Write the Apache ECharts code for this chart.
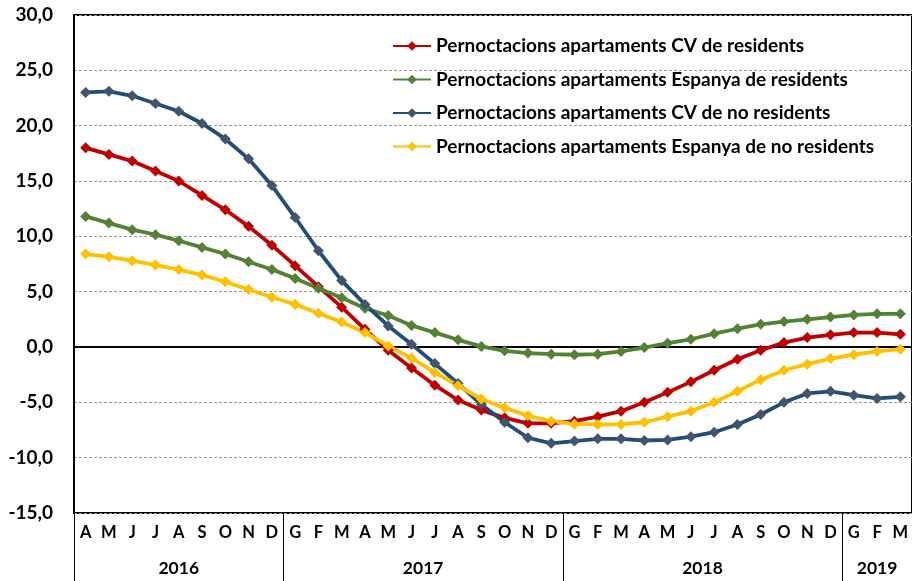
<!DOCTYPE html>
<html>
<head>
<meta charset="utf-8">
<script src="https://cdn.jsdelivr.net/npm/echarts@6/dist/echarts.min.js"></script>
<style>
	html, body { margin: 0; padding: 0; background: #fff; }
	#chart { width: 912px; height: 581px; }
</style>
</head>
<body>
<div id="chart"></div>
<script>
	/* mesos (abril 2016 - març 2019) */
	var months = ['A','M','J','J','A','S','O','N','D',
		'G','F','M','A','M','J','J','A','S','O','N','D',
		'G','F','M','A','M','J','J','A','S','O','N','D',
		'G','F','M'];
	/* anys i nombre de mesos de cada any */
	var years = ['2016', '2017', '2018', '2019'];
	var yearMonths = [9, 12, 12, 3];

	var cvResidents = [18.0, 17.4, 16.8, 15.9, 15.0, 13.7, 12.4, 10.9, 9.2,
		7.35, 5.45, 3.6, 1.6, -0.3, -1.9, -3.45, -4.8, -5.7, -6.4, -6.9, -6.9,
		-6.7, -6.3, -5.8, -5.0, -4.1, -3.15, -2.1, -1.1, -0.3, 0.4, 0.85, 1.1,
		1.3, 1.3, 1.15];
	var espResidents = [11.8, 11.2, 10.6, 10.15, 9.6, 9.0, 8.4, 7.7, 7.0,
		6.2, 5.3, 4.45, 3.5, 2.85, 1.95, 1.3, 0.65, 0.05, -0.35, -0.55, -0.65,
		-0.7, -0.65, -0.4, -0.05, 0.35, 0.7, 1.2, 1.65, 2.05, 2.3, 2.5, 2.7,
		2.9, 3.0, 3.0];
	var cvNoResidents = [23.0, 23.1, 22.7, 22.0, 21.3, 20.2, 18.8, 17.0, 14.6,
		11.7, 8.7, 6.0, 3.85, 1.9, 0.25, -1.5, -3.3, -5.2, -6.8, -8.2, -8.7,
		-8.5, -8.3, -8.3, -8.45, -8.4, -8.1, -7.7, -7.0, -6.1, -5.0, -4.2, -4.0,
		-4.35, -4.65, -4.5];
	var espNoResidents = [8.4, 8.15, 7.8, 7.4, 7.0, 6.5, 5.9, 5.2, 4.5,
		3.85, 3.05, 2.25, 1.3, 0.1, -1.0, -2.3, -3.5, -4.7, -5.5, -6.2, -6.7,
		-6.95, -7.0, -7.0, -6.8, -6.3, -5.8, -5.0, -4.0, -2.95, -2.1, -1.55, -1.05,
		-0.7, -0.4, -0.2];

	var seriesNames = [
		'Pernoctacions apartaments CV de residents',
		'Pernoctacions apartaments Espanya de residents',
		'Pernoctacions apartaments CV de no residents',
		'Pernoctacions apartaments Espanya de no residents'
	];

	/* límits i centres dels anys, per a l'eix inferior */
	var yearBounds = [0];
	var yearCenters = [];
	yearMonths.forEach(function (n, i) {
		var start = yearBounds[i];
		yearBounds.push(start + n);
		yearCenters.push(start + n / 2);
	});

	var font = 'Lato, "Liberation Sans", sans-serif';

	function makeSeries(name, data, lineColor, markColor, extra) {
		var s = {
			name: name,
			type: 'line',
			data: data,
			symbol: 'diamond',
			symbolSize: 11,
			lineStyle: { width: 3.8, color: lineColor },
			itemStyle: { color: markColor },
			z: 3
		};
		for (var k in extra) s[k] = extra[k];
		return s;
	}

	var chart = echarts.init(document.getElementById('chart'));
	chart.setOption({
		animation: false,
		grid: {
			left: 74,
			right: -2,
			top: 15,
			bottom: 68,
			show: true,
			borderColor: '#000',
			borderWidth: 2
		},
		legend: {
			orient: 'vertical',
			left: 387,
			top: 31,
			itemWidth: 38,
			itemHeight: 12,
			itemGap: 13.5,
			textStyle: {
				fontFamily: font,
				fontWeight: 'bold',
				fontSize: 19,
				lineHeight: 20,
				color: '#000'
			},
			data: seriesNames
		},
		xAxis: [{
			type: 'category',
			position: 'bottom',
			data: months,
			boundaryGap: true,
			axisLine: { lineStyle: { color: '#000', width: 2 } },
			axisTick: { show: false },
			axisLabel: {
				interval: 0,
				margin: 11,
				fontFamily: font,
				fontWeight: 'bold',
				fontSize: 16.5,
				color: '#000'
			},
			splitLine: { show: false }
		}, {
			type: 'value',
			position: 'bottom',
			min: 0,
			max: months.length,
			axisLine: { show: false },
			axisTick: {
				show: true,
				inside: false,
				length: 70,
				customValues: yearBounds,
				lineStyle: { color: '#000', width: 1 }
			},
			axisLabel: {
				customValues: yearCenters,
				margin: 46,
				fontFamily: font,
				fontWeight: 'bold',
				fontSize: 17.5,
				color: '#000',
				formatter: function (v) {
					return years[yearCenters.indexOf(v)];
				}
			},
			splitLine: { show: false }
		}],
		yAxis: {
			type: 'value',
			min: -15,
			max: 30,
			interval: 5,
			axisLine: { show: true, lineStyle: { color: '#000', width: 2 } },
			axisTick: { show: false },
			axisLabel: {
				margin: 21,
				fontFamily: font,
				fontWeight: 'bold',
				fontSize: 19,
				color: '#000',
				formatter: function (v) {
					return v.toFixed(1).replace('.', ',');
				}
			},
			splitLine: {
				show: true,
				lineStyle: { color: '#999', type: [3, 2], width: 1 }
			}
		},
		series: [
			makeSeries(seriesNames[0], cvResidents, '#C00000', '#C00000', {
				markLine: {
					silent: true,
					symbol: 'none',
					label: { show: false },
					lineStyle: { color: '#000', type: 'solid', width: 1 },
					data: [{ yAxis: 0 }],
					z: 1
				}
			}),
			makeSeries(seriesNames[1], espResidents, '#548235', '#548235'),
			makeSeries(seriesNames[2], cvNoResidents, '#1F4E79', '#44546A'),
			makeSeries(seriesNames[3], espNoResidents, '#FFC000', '#FFC000')
		]
	});
</script>
</body>
</html>
